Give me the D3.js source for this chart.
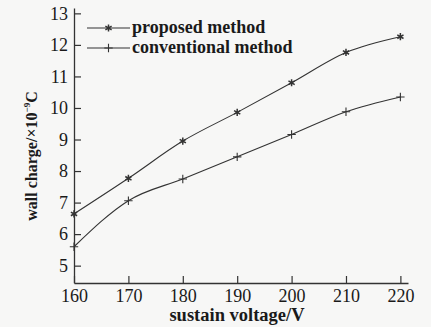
<!DOCTYPE html>
<html>
<head>
<meta charset="utf-8">
<script src="https://cdn.jsdelivr.net/npm/d3@7/dist/d3.min.js"></script>
<style>
  html, body { margin: 0; padding: 0; background: #f7f7f6; }
  svg { display: block; }
  text { font-family: "Liberation Serif", "Times New Roman", serif; fill: #1a1a1a; }
</style>
</head>
<body>
<script>
// Sustain voltage (V) and measured wall charge for the two driving methods
const voltages = [160, 170, 180, 190, 200, 210, 220];
const proposed = [6.64, 7.77, 8.95, 9.86, 10.8, 11.76, 12.26];
const conventional = [5.6, 7.06, 7.75, 8.45, 9.16, 9.88, 10.35];
const xTicks = [160, 170, 180, 190, 200, 210, 220];
const yTicks = [5, 6, 7, 8, 9, 10, 11, 12, 13];
const seriesNames = ["proposed method", "conventional method"];

const W = 431, H = 327;
const ink = "#333";

const svg = d3.select("body").append("svg")
  .attr("width", W).attr("height", H);

const x = d3.scaleLinear().domain([160, 221.4]).range([74, 408]);
const y = d3.scaleLinear().domain([4.45, 13.17]).range([283, 8]);

// Axes with inward ticks
const xAxis = svg.append("g")
  .attr("transform", `translate(0,${y(4.45)})`)
  .call(d3.axisBottom(x).tickValues(xTicks).tickSizeInner(-7).tickSizeOuter(0).tickPadding(6));
const yAxis = svg.append("g")
  .attr("transform", `translate(${x(160)},0)`)
  .call(d3.axisLeft(y).tickValues(yTicks).tickSizeInner(-7).tickSizeOuter(0).tickPadding(6));

[xAxis, yAxis].forEach(g => {
  g.select(".domain").attr("stroke", ink).attr("stroke-width", 1.3);
  g.selectAll(".tick line").attr("stroke", ink).attr("stroke-width", 1.2);
  g.selectAll(".tick text")
    .attr("font-size", 18)
    .attr("fill", "#1a1a1a");
});

// Axis titles
svg.append("text")
  .attr("x", 237).attr("y", 321)
  .attr("text-anchor", "middle")
  .attr("font-size", 18.5).attr("font-weight", "bold")
  .text("sustain voltage/V");

const yTitle = svg.append("text")
  .attr("transform", "translate(37,156) rotate(-90)")
  .attr("text-anchor", "middle")
  .attr("font-size", 16).attr("font-weight", "bold");
yTitle.append("tspan").text("wall charge/×10");
yTitle.append("tspan").attr("dy", -7).attr("font-size", 9).text("−9");
yTitle.append("tspan").attr("dy", 7).text("C");

// Lines
const line = d3.line()
  .x((d, i) => x(voltages[i]))
  .y(d => y(d))
  .curve(d3.curveMonotoneX);

function asterisk(g, cx, cy, r) {
  const p = d3.path();
  for (let k = 0; k < 3; k++) {
    const a = Math.PI / 2 + k * Math.PI / 3;
    p.moveTo(cx + r * Math.cos(a), cy + r * Math.sin(a));
    p.lineTo(cx - r * Math.cos(a), cy - r * Math.sin(a));
  }
  g.append("path").attr("d", p.toString()).attr("stroke", ink).attr("stroke-width", 1.5).attr("fill", "none");
}
function plus(g, cx, cy, r) {
  const p = d3.path();
  p.moveTo(cx - r, cy); p.lineTo(cx + r, cy);
  p.moveTo(cx, cy - r); p.lineTo(cx, cy + r);
  g.append("path").attr("d", p.toString()).attr("stroke", ink).attr("stroke-width", 1.1).attr("fill", "none");
}

const series = [
  { values: proposed, marker: asterisk, r: 3.6 },
  { values: conventional, marker: plus, r: 4.2 }
];

series.forEach(s => {
  svg.append("path")
    .attr("d", line(s.values))
    .attr("fill", "none").attr("stroke", ink).attr("stroke-width", 1.1);
  const g = svg.append("g");
  s.values.forEach((v, i) => s.marker(g, x(voltages[i]), y(v), s.r));
});

// Legend
const legend = svg.append("g");
series.forEach((s, i) => {
  const ly = 28 + i * 20;
  legend.append("line")
    .attr("x1", 87).attr("x2", 130).attr("y1", ly).attr("y2", ly)
    .attr("stroke", ink).attr("stroke-width", 1.1);
  s.marker(legend, 108.5, ly, s.r);
  legend.append("text")
    .attr("x", 132).attr("y", ly + 5)
    .attr("font-size", 18).attr("font-weight", "bold")
    .text(seriesNames[i]);
});
</script>
</body>
</html>
